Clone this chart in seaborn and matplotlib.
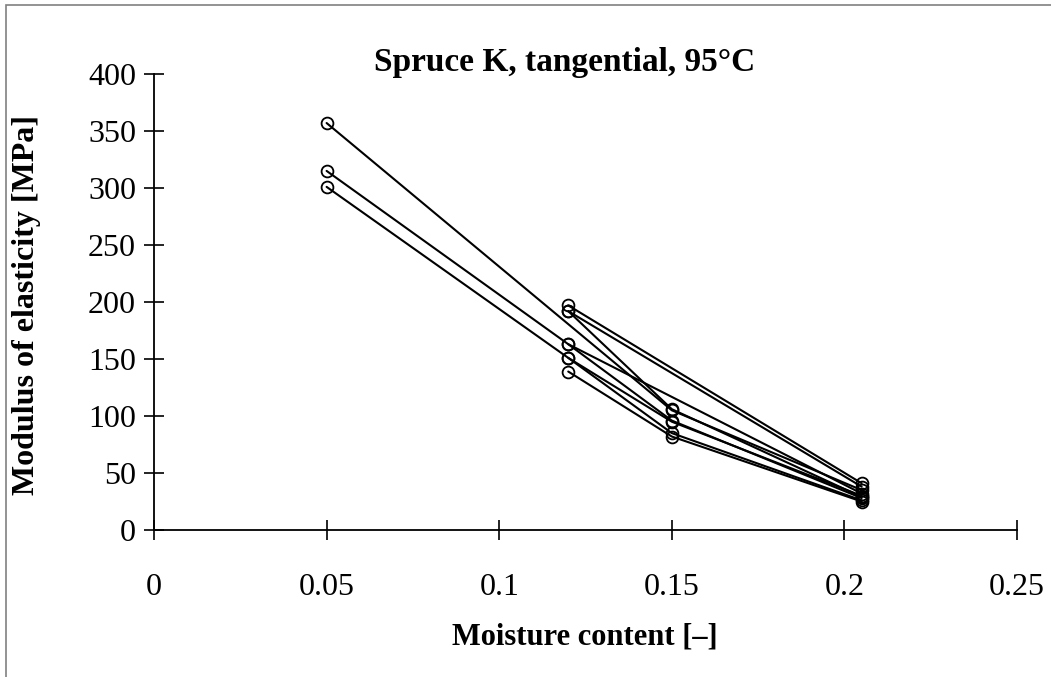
import numpy as np
import pandas as pd
import matplotlib
matplotlib.use("Agg")
import matplotlib.pyplot as plt
import seaborn as sns
from matplotlib.patches import Rectangle

moisture = [0.05, 0.12, 0.15, 0.205]
nan = np.nan
s1 = [357, nan, 105, 35]
s2 = [315, 163, nan, 32]
s3 = [301, 151, 95, 30]
s4 = [nan, 197, nan, 41]
s5 = [nan, 192, nan, 38]
s6 = [nan, 192, 106, 29]
s7 = [nan, 163, 96, 28]
s8 = [nan, 151, 85, 26]
s9 = [nan, 139, 82, 25]
series = {"S1": s1, "S2": s2, "S3": s3, "S4": s4, "S5": s5,
          "S6": s6, "S7": s7, "S8": s8, "S9": s9}

xticks = [0, 0.05, 0.1, 0.15, 0.2, 0.25]
xticklabels = ["0", "0.05", "0.1", "0.15", "0.2", "0.25"]
yticks = [0, 50, 100, 150, 200, 250, 300, 350, 400]

rows = []
for name, vals in series.items():
    for x, v in zip(moisture, vals):
        rows.append({"series": name, "mc": x, "moe": v})
df = pd.DataFrame(rows).dropna()

sns.set_theme(style="white")
plt.rcParams["font.family"] = ["Liberation Serif", "DejaVu Serif"]
plt.rcParams["text.color"] = "black"

W, H = 1051, 677
fig = plt.figure(figsize=(W / 100, H / 100), dpi=100)
ax = fig.add_axes([154 / W, 1 - 530 / H, (1017 - 154) / W, (530 - 74) / H])

sns.lineplot(data=df, x="mc", y="moe", units="series", estimator=None,
             color="black", linewidth=1.5, marker="o", markersize=8.5,
             markerfacecolor="none", markeredgecolor="black",
             markeredgewidth=1.3, sort=True, ax=ax, legend=False)

ax.set_xlim(0, 0.25)
ax.set_ylim(0, 400)
ax.set_xticks(xticks)
ax.set_xticklabels(xticklabels)
ax.set_yticks(yticks)
for side in ["top", "right"]:
    ax.spines[side].set_visible(False)
for side in ["left", "bottom"]:
    ax.spines[side].set_visible(True)
    ax.spines[side].set_color("black")
    ax.spines[side].set_linewidth(1.3)
ax.tick_params(axis="both", direction="inout", length=14, width=1.2,
               colors="black", labelsize=23, bottom=True, left=True)
ax.tick_params(axis="x", pad=24)
ax.tick_params(axis="y", pad=6)
ax.set_xlabel("")
ax.set_ylabel("")
ax.grid(False)

fig.text(565 / W, 1 - 62 / H, "Spruce K, tangential, 95\u00b0C", ha="center",
         va="center", fontsize=24, fontweight="bold", color="black")
fig.text(585 / W, 1 - 637 / H, "Moisture content [\u2013]", ha="center",
         va="center", fontsize=22, fontweight="bold", color="black")
fig.text(27 / W, 1 - 305 / H, "Modulus of elasticity [MPa]", ha="center",
         va="center", rotation=90, fontsize=23, fontweight="bold",
         color="black")

fig.patches.append(Rectangle((6 / W, -0.05), 1.1, 1 - 5 / H + 0.05,
                             transform=fig.transFigure, fill=False,
                             edgecolor="#808080", linewidth=1.2))

fig.savefig("out.png", dpi=100)
